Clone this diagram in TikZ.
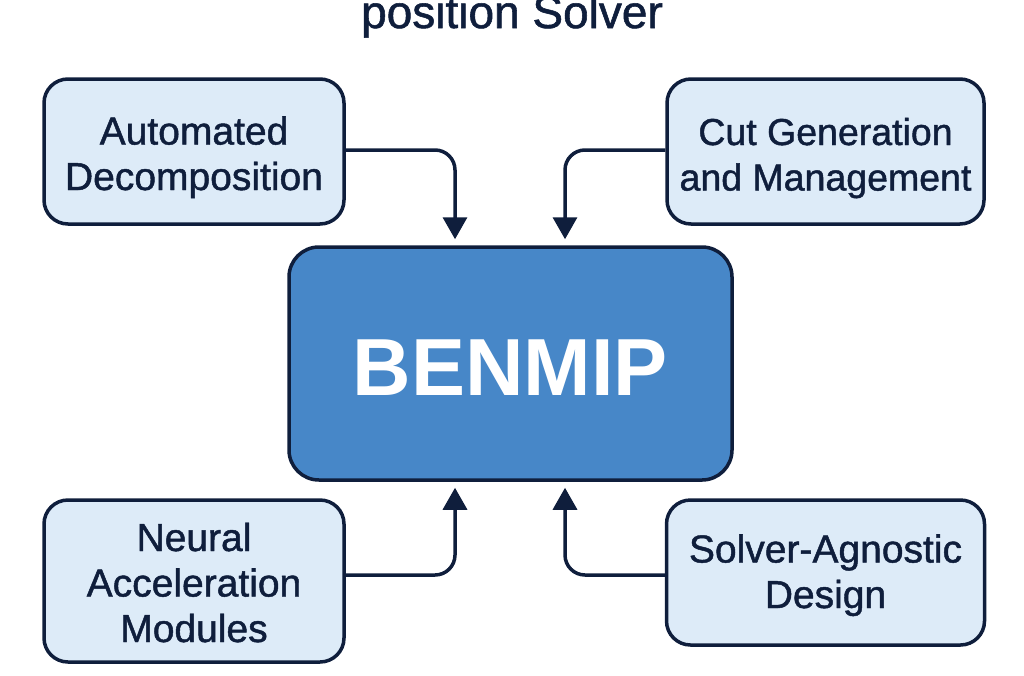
\documentclass[tikz,border=0pt]{standalone}
\usepackage{fontspec}
\setmainfont{Liberation Sans}
\newfontfamily\medfont[FakeBold=1.2]{Liberation Sans}
\usetikzlibrary{arrows.meta}
\definecolor{navy}{HTML}{0F1E3C}
\definecolor{lightfill}{HTML}{DDEBF8}
\definecolor{mainfill}{HTML}{4787C8}
\tikzset{
  feature/.style={draw=navy, line width=3.5pt, fill=lightfill, rounded corners=24pt,
    align=center, text=navy, font=\medfont\fontsize{39}{45.5}\selectfont, inner sep=0pt,
    text depth=0pt},
  core/.style={draw=navy, line width=3.5pt, fill=mainfill, rounded corners=30pt,
    text=white, font=\fontsize{81}{90}\selectfont\bfseries, inner sep=0pt,
    text height=63pt, text depth=0pt},
  conn/.style={draw=navy, line width=3.5pt, rounded corners=20pt,
    -{Triangle[length=22pt,width=24pt]}, shorten >=6pt},
}
\begin{document}
\begin{tikzpicture}[x=1pt,y=-1pt]
\useasboundingbox (0,0) rectangle (1024,675);
\begin{scope}
\clip (0,0) rectangle (1024,675);
\node[text=navy, font=\medfont\fontsize{46}{50}\selectfont, anchor=base] (title) at (512,28) {position Solver};
\end{scope}
\node[feature, text height=77pt, minimum width=300pt, minimum height=145pt] (auto) at (194,151.5) {Automated\\Decomposition};
\node[feature, font=\medfont\fontsize{37.5}{45.5}\selectfont, text height=78pt, minimum width=317pt, minimum height=145pt] (cut) at (825.5,151.5) {Cut Generation\\and Management};
\node[core, minimum width=443pt, minimum height=233pt] (ben) at (510.5,363.5) {BENMIP};
\node[feature, text height=122pt, minimum width=300pt, minimum height=162pt] (neural) at (194,581) {Neural\\Acceleration\\Modules};
\node[feature, text height=71pt, minimum width=318pt, minimum height=145pt] (solver) at (825.5,572.5) {Solver-Agnostic\\Design};
\draw[conn] ([yshift=1.5pt]auto.east) -| ([xshift=-55.5pt]ben.north);
\draw[conn] ([yshift=1.5pt]cut.west) -| ([xshift=54.5pt]ben.north);
\draw[conn] ([yshift=6pt]neural.east) -| ([xshift=-55.5pt]ben.south);
\draw[conn] ([yshift=-2.5pt]solver.west) -| ([xshift=54.5pt]ben.south);
\end{tikzpicture}
\end{document}
